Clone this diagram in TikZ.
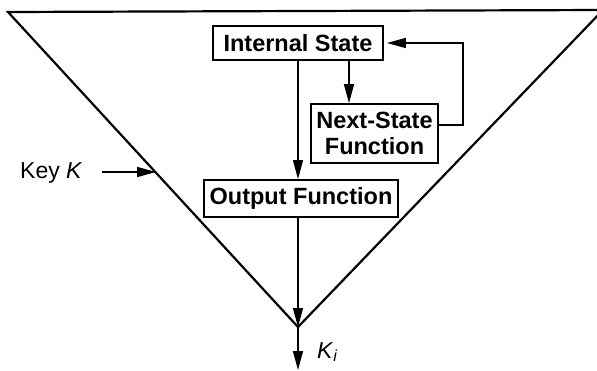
\documentclass[tikz,border=0pt]{standalone}
\usepackage{fontspec}
\setmainfont{Liberation Sans}
\usetikzlibrary{arrows.meta}
\begin{document}
\begin{tikzpicture}[x=1pt,y=-1pt,
  box/.style={draw,line width=1.8pt,inner sep=0pt,align=center,font=\fontsize{23.5}{26}\selectfont\bfseries},
  conn/.style={line width=1.5pt,-{Triangle[length=19pt,width=10pt]}},
  plain/.style={line width=1.5pt},
  lbl/.style={inner sep=0pt,font=\fontsize{23}{26}\selectfont}]
\useasboundingbox (0,0) rectangle (597,370);
% triangle
\draw[line width=2.2pt,line join=miter] (8,12) -- (298,327) -- (603,10) -- cycle;
% boxes
\node[box,minimum width=170pt,minimum height=34pt] (is) at (298,43) {Internal State};
\node[box,minimum width=127pt,minimum height=59pt] (ns) at (374.5,133.5) {Next-State\\Function};
\node[box,minimum width=194pt,minimum height=37pt] (of) at (301,198.5) {Output Function};
% coordinates
\coordinate (a) at (349,0);
\coordinate (apex) at (298,327);
\coordinate (out) at (298,370);
\coordinate (kin) at (156,172);
% connectors
\draw[conn] (is.south) -- (is.south |- of.north);
\draw[conn] (is.south -| a) -- (ns.north -| a);
\draw[conn,shorten >=3pt] ([yshift=8.5pt]ns.east) -- ++(24,0) |- (is.east);
\draw[conn] (of.south -| apex) -- (apex);
\draw[conn] (apex) -- (out);
% labels
\node[lbl,anchor=west] (key) at (20,173) {Key \textit{K}};
\draw[conn] ([xshift=19pt]key.east |- kin) -- (kin);
\node[lbl,anchor=west] (ki) at (317,352) {\textit{K}\textsubscript{\textit{i}}};
\end{tikzpicture}
\end{document}
